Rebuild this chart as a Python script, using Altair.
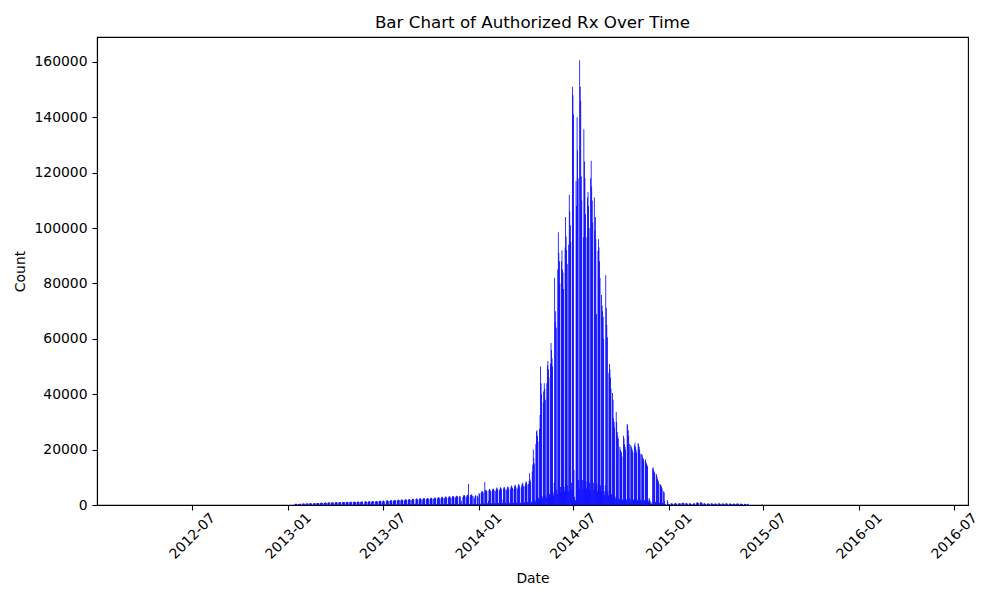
import altair as alt
import pandas as pd

# Daily counts, one row per week (Mon..Sun), first row starts Monday 2012-12-31
START_MONDAY = "2012-12-31"

weeks_2013_h1 = [
    [0, 0, 0, 0, 0, 0, 0],
    [0, 0, 0, 0, 120, 0, 0],
    [310, 420, 380, 450, 360, 40, 20],
    [350, 400, 460, 410, 390, 30, 25],
    [420, 510, 470, 530, 440, 50, 30],
    [480, 560, 520, 600, 470, 60, 40],
    [510, 590, 640, 570, 520, 60, 40],
    [450, 620, 660, 700, 610, 70, 50],
    [640, 720, 690, 760, 650, 80, 60],
    [700, 780, 820, 760, 690, 90, 60],
    [740, 830, 880, 900, 760, 90, 70],
    [760, 900, 950, 870, 820, 100, 70],
    [800, 920, 1010, 960, 640, 100, 80],
    [830, 980, 1040, 1000, 900, 110, 80],
    [870, 1010, 1090, 1050, 930, 110, 90],
    [900, 1050, 1120, 1060, 960, 120, 90],
    [920, 1080, 1150, 1110, 990, 120, 90],
    [950, 1110, 1180, 1140, 1020, 130, 100],
    [980, 1140, 1210, 1170, 1050, 130, 100],
    [1010, 1170, 1240, 1200, 1080, 140, 100],
    [1040, 1200, 1270, 1230, 1110, 140, 110],
    [300, 1250, 1330, 1290, 1170, 150, 110],
    [1100, 1280, 1370, 1320, 1200, 150, 110],
    [1150, 1330, 1420, 1380, 1250, 160, 120],
    [1200, 1390, 1480, 1440, 1300, 170, 120],
    [1250, 1450, 1550, 1500, 1360, 170, 130],
]

weeks_2013_h2 = [
    [1300, 1510, 1620, 400, 1250, 180, 130],
    [1360, 1580, 1700, 1640, 1480, 190, 140],
    [1420, 1650, 1770, 1710, 1540, 200, 150],
    [1480, 1720, 1850, 1780, 1610, 210, 150],
    [1540, 1790, 1930, 1860, 1680, 220, 160],
    [1600, 1860, 2000, 1930, 1740, 230, 170],
    [1660, 1930, 2080, 2000, 1810, 240, 170],
    [1720, 2000, 2160, 2080, 1880, 250, 180],
    [1790, 2080, 2240, 2160, 1950, 260, 190],
    [500, 2150, 2320, 2240, 2020, 270, 200],
    [1920, 2230, 2400, 2320, 2090, 280, 200],
    [1990, 2310, 2490, 2400, 2170, 290, 210],
    [2060, 2390, 2570, 2480, 2240, 300, 220],
    [2130, 2470, 2660, 2570, 2320, 310, 220],
    [2200, 2560, 2750, 2660, 2400, 320, 230],
    [2280, 2650, 2850, 2750, 2480, 330, 240],
    [2360, 2740, 2950, 2850, 2570, 340, 250],
    [2440, 2840, 3050, 2950, 2660, 350, 260],
    [2530, 2940, 3160, 3050, 2750, 370, 270],
    [2620, 3040, 3270, 3160, 2850, 380, 280],
    [2710, 3150, 3380, 3270, 2950, 390, 280],
    [2800, 3260, 3100, 600, 1500, 300, 250],
    [2900, 3370, 3620, 3500, 3160, 420, 300],
    [3000, 3480, 3700, 3620, 7600, 430, 310],
    [3100, 3600, 3850, 3720, 3360, 440, 320],
    [3200, 2400, 200, 3500, 3300, 400, 300],
    [3300, 2800, 300, 4200, 4000, 500, 350],
]

weeks_2014_h1 = [
    [4300, 4800, 5100, 4900, 4500, 600, 400],
    [8300, 5200, 5500, 5300, 4900, 650, 450],
    [1500, 5400, 5800, 5600, 5100, 700, 450],
    [5000, 5600, 6000, 5800, 5300, 700, 500],
    [5100, 5800, 6300, 6000, 5500, 750, 500],
    [5200, 5900, 6400, 6100, 5600, 750, 500],
    [2000, 6000, 6500, 6300, 5700, 800, 550],
    [5400, 6200, 6700, 6400, 5900, 800, 550],
    [5600, 6400, 7000, 6700, 6100, 850, 600],
    [5800, 6700, 7300, 7000, 6300, 900, 600],
    [6000, 6900, 7600, 7200, 6500, 900, 650],
    [6300, 7300, 8000, 7600, 6900, 1000, 700],
    [6800, 7800, 8500, 8200, 7400, 1100, 800],
    [7600, 8700, 11500, 9200, 8300, 1300, 900],
    [12000, 14500, 20000, 17000, 15000, 1800, 1200],
    [22000, 26500, 27000, 25000, 23000, 2500, 1800],
    [27500, 32500, 50000, 44000, 40000, 3200, 2400],
    [37000, 41000, 44000, 42000, 38000, 3500, 2600],
    [44000, 50500, 52000, 49000, 46000, 4000, 3000],
    [51000, 58500, 56000, 53000, 50000, 4500, 3300],
    [8000, 82000, 66000, 70000, 64000, 5500, 4000],
    [85000, 98500, 91000, 88000, 80000, 6500, 4500],
    [88000, 92000, 85000, 84000, 78000, 6500, 5000],
    [93000, 104000, 97000, 92000, 87000, 7000, 5000],
    [94000, 112000, 106000, 101000, 95000, 8000, 5500],
]

weeks_2014_h2 = [
    [151000, 148000, 141000, 12600, 3000, 2000, 1500],
    [117000, 108000, 140000, 128000, 118000, 9000, 6000],
    [160600, 151000, 146000, 118700, 110000, 9000, 6000],
    [96700, 135700, 124000, 118000, 105000, 8500, 6000],
    [96700, 111000, 113000, 108000, 100000, 8000, 5500],
    [118000, 124300, 115000, 110000, 102000, 8000, 5500],
    [111000, 99000, 104000, 96000, 69000, 7500, 5000],
    [91700, 96000, 93000, 88000, 82000, 7000, 5000],
    [75800, 72000, 70000, 68000, 60000, 5000, 3500],
    [7000, 83000, 71200, 65000, 60600, 5000, 3500],
    [47800, 51000, 49000, 46000, 42000, 4000, 3000],
    [40400, 38000, 31200, 30000, 28000, 3000, 2200],
    [33600, 30000, 26400, 25000, 24000, 2500, 2000],
    [21000, 20000, 19500, 19000, 17500, 2000, 1500],
    [25000, 24000, 22000, 21000, 20000, 2200, 1600],
    [29200, 29000, 27000, 25000, 22000, 2500, 1800],
    [21700, 21000, 20500, 19800, 19000, 2000, 1500],
    [21500, 22500, 21000, 20000, 19000, 2000, 1500],
    [22300, 22000, 21000, 20000, 18500, 2000, 1500],
    [18400, 18000, 17000, 16700, 16000, 1800, 1300],
    [16500, 15500, 15000, 14500, 14000, 1600, 1200],
    [2500, 2000, 1500, 500, 1000, 400, 300],
    [13300, 13500, 12500, 12000, 11500, 1200, 900],
    [11200, 10500, 9500, 9000, 8500, 900, 700],
    [7600, 7300, 7000, 6500, 6000, 700, 500],
    [5000, 4500, 1500, 300, 200, 100, 100],
    [1800, 1200, 300, 200, 400, 0, 0],
]

weeks_2015_h1 = [
    [500, 600, 550, 450, 400, 0, 0],
    [550, 650, 600, 500, 450, 0, 0],
    [300, 600, 650, 550, 500, 0, 0],
    [600, 700, 900, 650, 500, 0, 0],
    [550, 650, 600, 500, 450, 0, 0],
    [500, 600, 550, 450, 400, 0, 0],
    [300, 550, 600, 500, 450, 0, 0],
    [600, 1000, 900, 700, 600, 0, 0],
    [650, 1100, 950, 700, 550, 0, 0],
    [500, 600, 550, 450, 400, 0, 0],
    [450, 550, 500, 450, 400, 0, 0],
    [500, 600, 550, 450, 400, 0, 0],
    [450, 550, 500, 400, 350, 0, 0],
    [500, 600, 550, 450, 400, 0, 0],
    [450, 550, 500, 450, 400, 0, 0],
    [500, 600, 550, 450, 400, 0, 0],
    [450, 550, 500, 400, 350, 0, 0],
    [400, 500, 450, 400, 350, 0, 0],
    [450, 550, 500, 450, 400, 0, 0],
    [400, 500, 450, 400, 350, 0, 0],
    [0, 450, 400, 350, 300, 0, 0],
    [400, 450, 0, 0, 0, 0, 0],
    [0, 0, 0, 0, 0, 0, 0],
    [0, 0, 0, 0, 0, 0, 0],
    [0, 0, 0, 0, 0, 0, 0],
    [300, 0, 0, 0, 0, 0, 0],
]

x_tick_labels = ["2012-07", "2013-01", "2013-07", "2014-01", "2014-07",
                 "2015-01", "2015-07", "2016-01", "2016-07"]
y_tick_values = [0, 20000, 40000, 60000, 80000, 100000, 120000, 140000, 160000]

rows = weeks_2013_h1 + weeks_2013_h2 + weeks_2014_h1 + weeks_2014_h2 + weeks_2015_h1
counts = [v for row in rows for v in row]
dates = pd.date_range(START_MONDAY, periods=len(counts), freq="D")
df = pd.DataFrame({"date": dates, "count": counts})
df = df[df["count"] > 0].reset_index(drop=True)

x_ticks = [alt.DateTime(year=int(t[:4]), month=int(t[5:]), date=1) for t in x_tick_labels]

FONT = "DejaVu Sans"

chart = alt.Chart(df).mark_bar(color="#0000ff", size=0.8).encode(
    x=alt.X(
        "date:T",
        title="Date",
        scale=alt.Scale(domain=[alt.DateTime(year=2012, month=1, date=10),
                                alt.DateTime(year=2016, month=7, date=18)]),
        axis=alt.Axis(values=x_ticks, format="%Y-%m", labelAngle=315,
                      labelAlign="center", labelBaseline="middle",
                      labelPadding=26, labelFlush=False, labelOverlap=False,
                      grid=False, titlePadding=10),
    ),
    y=alt.Y(
        "count:Q",
        title="Count",
        scale=alt.Scale(domain=[0, 169000], nice=False),
        axis=alt.Axis(values=y_tick_values, format="d", grid=False,
                      labelPadding=5, titlePadding=6),
    ),
).properties(
    width=871,
    height=468,
    title=alt.TitleParams("Bar Chart of Authorized Rx Over Time", font=FONT,
                          fontSize=16.7, fontWeight="normal", color="black",
                          anchor="middle", frame="group", offset=5),
    padding={"left": 89, "top": 29, "right": 24, "bottom": 84},
    autosize=alt.AutoSizeParams(type="none"),
).configure_view(
    stroke="black", strokeWidth=1.1
).configure_axis(
    labelFont=FONT, labelFontSize=13.9, labelColor="black",
    titleFont=FONT, titleFontSize=13.9, titleFontWeight="normal", titleColor="black",
    domainColor="black", domainWidth=1.1,
    tickColor="black", tickWidth=1.1, tickSize=5,
)

chart.save("out.html", embed_options={"renderer": "svg", "actions": False})
